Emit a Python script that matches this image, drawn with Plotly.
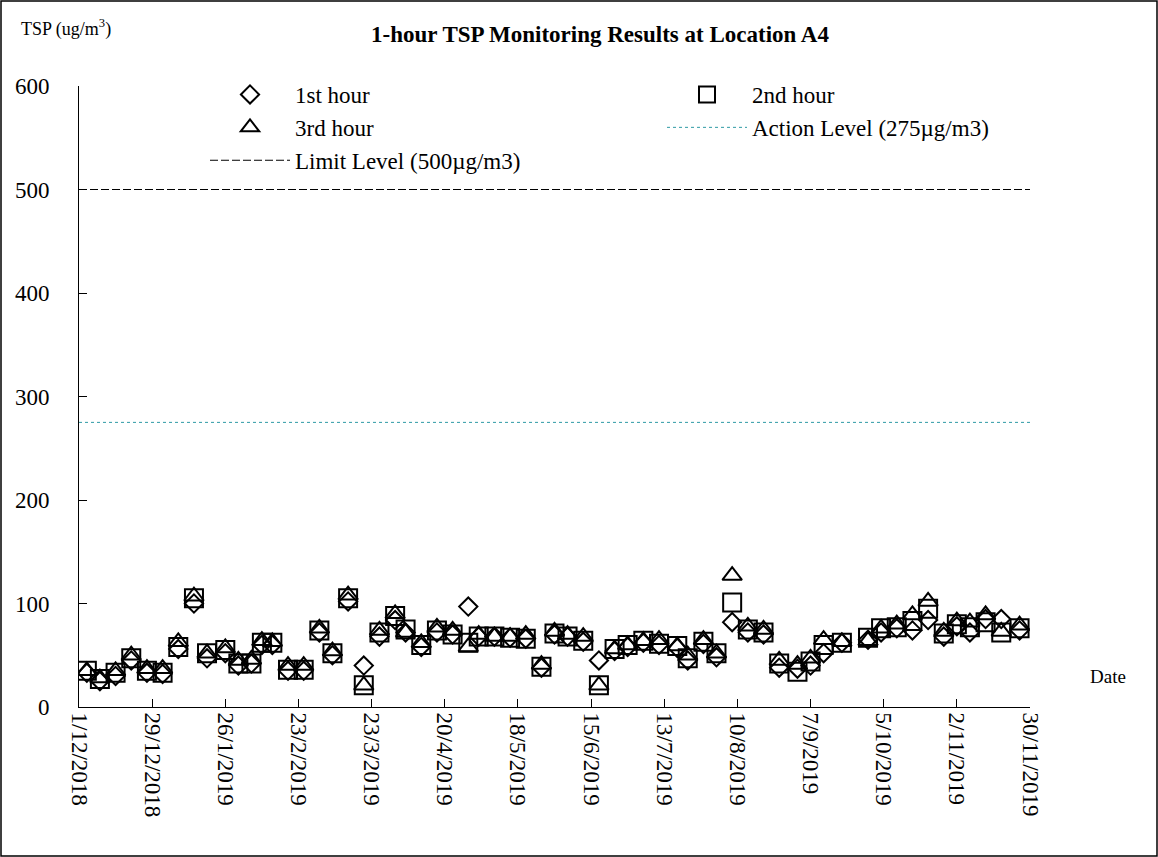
import plotly.graph_objects as go

dates = ["2018-12-04","2018-12-09","2018-12-15","2018-12-21","2018-12-27","2019-01-02","2019-01-08","2019-01-14","2019-01-19","2019-01-26",
         "2019-01-31","2019-02-05","2019-02-09","2019-02-13","2019-02-19","2019-02-25","2019-03-03","2019-03-08","2019-03-14","2019-03-20",
         "2019-03-26","2019-04-01","2019-04-05","2019-04-11","2019-04-17","2019-04-23","2019-04-29","2019-05-03","2019-05-09","2019-05-15",
         "2019-05-21","2019-05-27","2019-06-01","2019-06-06","2019-06-12","2019-06-18","2019-06-24","2019-06-29","2019-07-05","2019-07-11",
         "2019-07-18","2019-07-22","2019-07-28","2019-08-02","2019-08-08","2019-08-14","2019-08-20","2019-08-26","2019-09-02","2019-09-07",
         "2019-09-12","2019-09-19","2019-09-29","2019-10-04","2019-10-10","2019-10-16","2019-10-22","2019-10-28","2019-11-02","2019-11-07",
         "2019-11-13","2019-11-19","2019-11-26"]

hour1 = [33,25,30,45,33,32,56,100,47,52, 40,42,60,60,35,35,72,50,102,40, 68,84,72,58,72,70,97,68,68,67,
         66,38,70,68,63,45,54,58,62,60, 57,45,61,48,82,72,70,38,37,40, 52,62,65,72,76,74,84,68,78,72, 85,85,74]
hour2 = [35,27,33,47,35,33,58,105,52,55, 42,42,62,62,36,36,74,52,105,21, 72,88,75,60,74,70,62,68,68,67,
         66,39,71,68,64,21,56,60,64,61, 59,47,63,52,101,75,72,42,34,44, 60,62,67,76,77,83,95,71,80,77, 82,72,76]
hour3 = [35,28,35,50,37,37,63,107,52,57, 45,46,64,63,40,40,76,54,108,21, 74,90,72,62,77,74,58,70,68,68,
         70,41,73,70,68,21,56,60,64,65, 59,50,65,52,127,78,75,45,41,47, 65,63,64,76,80,89,102,73,83,82, 89,73,79]

x_range = ["2018-12-01", "2019-11-30"]
action_level = [275, 275]
limit_level = [500, 500]

FONT = "Liberation Serif"
L, R, T, B = 79, 128, 86, 150
W, H = 1158, 857
pw, ph = W - L - R, H - T - B

fig = go.Figure()
fig.add_trace(go.Scatter(x=dates, y=hour1, mode="markers", name="1st hour",
                         marker=dict(symbol="diamond-open", size=14, color="black", line=dict(width=2, color="black"))))
fig.add_trace(go.Scatter(x=dates, y=hour2, mode="markers", name="2nd hour",
                         marker=dict(symbol="square-open", size=18, color="black", line=dict(width=2, color="black"))))
fig.add_trace(go.Scatter(x=dates, y=hour3, mode="markers", name="3rd hour",
                         marker=dict(symbol="triangle-up-open", size=17, color="black", line=dict(width=2, color="black"))))
fig.add_trace(go.Scatter(x=x_range, y=action_level, mode="lines", name="Action Level (275µg/m3)",
                         line=dict(color="#2f9aa5", width=1, dash="dot")))
fig.add_trace(go.Scatter(x=x_range, y=limit_level, mode="lines", name="Limit Level (500µg/m3)",
                         line=dict(color="black", width=1, dash="8px,3px")))

fig.update_layout(
    width=W, height=H,
    margin=dict(l=L, r=R, t=T, b=B, autoexpand=False),
    paper_bgcolor="white", plot_bgcolor="white",
    font=dict(family=FONT, size=23, color="black"),
    title=dict(text="<b>1-hour TSP Monitoring Results at Location A4</b>", x=600 / W, xanchor="center",
               y=1 - 34 / H, yanchor="middle", font=dict(family=FONT, size=23, color="black")),
    showlegend=True,
    legend=dict(orientation="h", xref="container", yref="container", x=205 / W, xanchor="left",
                y=1 - 73 / H, yanchor="top",
                bgcolor="rgba(0,0,0,0)", font=dict(family=FONT, size=23, color="black"),
                entrywidth=362, itemwidth=80, tracegroupgap=0),
    xaxis=dict(type="date", range=x_range, tick0="2018-12-01", dtick=28 * 86400000, automargin=False,
               tickformat="%-d/%-m/%Y", tickangle=90, ticks="inside", ticklen=8, tickcolor="black",
               showline=True, linecolor="black", linewidth=1, showgrid=False, zeroline=False,
               tickfont=dict(family=FONT, size=23, color="black")),
    yaxis=dict(range=[0, 600], dtick=100, ticks="inside", ticklen=8, tickcolor="black", automargin=False,
               showline=True, linecolor="black", linewidth=1, showgrid=False, zeroline=False,
               ticklabelstandoff=24, tickfont=dict(family=FONT, size=23, color="black")),
    annotations=[
        dict(text="TSP (ug/m<sup>3</sup>)", xref="paper", yref="paper", x=-(L - 19) / pw, y=1 + (T - 28) / ph,
             xanchor="left", yanchor="middle", showarrow=False, font=dict(family=FONT, size=18, color="black")),
        dict(text="Date", xref="paper", yref="paper", x=1 + (1088 - (L + pw)) / pw, y=(H - B - 676) / ph,
             xanchor="left", yanchor="middle", showarrow=False, font=dict(family=FONT, size=19, color="black")),
    ],
    shapes=[dict(type="rect", xref="paper", yref="paper",
                 x0=-(L - 1) / pw, x1=1 + (R - 1) / pw, y0=-(B - 1) / ph, y1=1 + (T - 1) / ph,
                 line=dict(color="black", width=1.5), fillcolor="rgba(0,0,0,0)")],
)

fig.write_html("out.html", config={"displayModeBar": False},
               post_script="document.body.style.margin='0';document.body.style.overflow='hidden';")
